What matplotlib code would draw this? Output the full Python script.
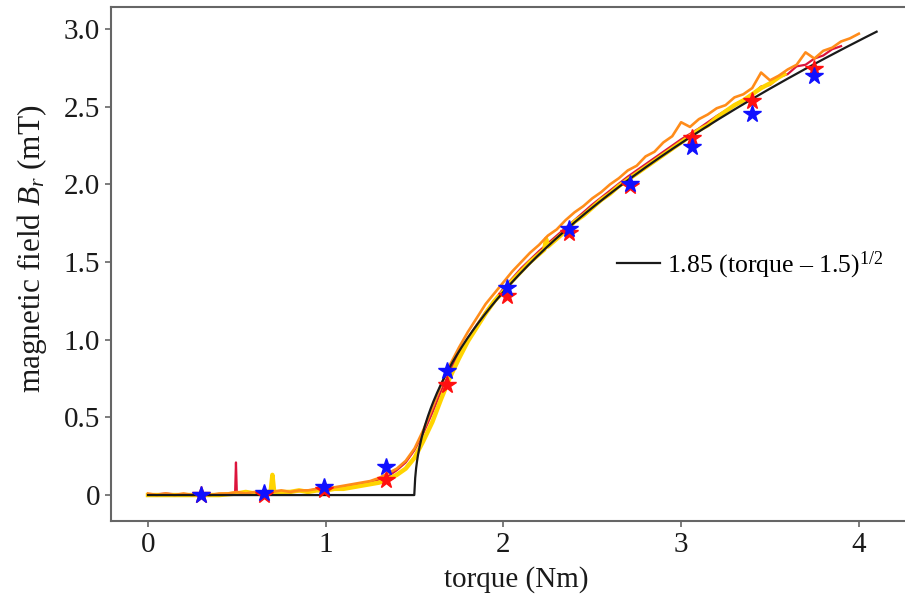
import matplotlib
matplotlib.use("Agg")
import matplotlib.pyplot as plt
import numpy as np

plt.rcParams['font.family'] = ['Liberation Serif', 'DejaVu Serif']
plt.rcParams['mathtext.fontset'] = 'custom'
plt.rcParams['mathtext.rm'] = 'Liberation Serif'
plt.rcParams['mathtext.it'] = 'Liberation Serif:italic'

# ---------------- data ----------------
# fit model parameters (from legend): 1.85 (torque - 1.5)^(1/2)
fit_coef = 1.85
fit_thresh = 1.5
fit_tmin, fit_tmax = 0.0, 4.1

# orange trace
orange_x = [0.00, 0.05, 0.10, 0.15, 0.20, 0.25, 0.30, 0.35, 0.40, 0.45,
            0.50, 0.55, 0.60, 0.65, 0.70, 0.75, 0.80, 0.85, 0.90, 0.95,
            1.00, 1.05, 1.10, 1.15, 1.20, 1.25, 1.30, 1.35, 1.40, 1.45,
            1.50, 1.55, 1.60, 1.65, 1.70, 1.75, 1.80, 1.85, 1.90, 1.95,
            2.00, 2.05, 2.10, 2.15, 2.20, 2.25, 2.30, 2.35, 2.40, 2.45,
            2.50, 2.55, 2.60, 2.65, 2.70, 2.75, 2.80, 2.85, 2.90, 2.95,
            3.00, 3.05, 3.10, 3.15, 3.20, 3.25, 3.30, 3.35, 3.40, 3.45,
            3.50, 3.55, 3.60, 3.65, 3.70, 3.75, 3.80, 3.85, 3.90, 3.95, 4.00]
orange_y = [0.01, 0.00, 0.01, 0.00, 0.01, 0.00, 0.01, 0.00, 0.01, 0.01,
            0.02, 0.01, 0.02, 0.02, 0.02, 0.03, 0.02, 0.03, 0.03, 0.04,
            0.04, 0.05, 0.06, 0.07, 0.08, 0.09, 0.11, 0.14, 0.17, 0.22,
            0.30, 0.42, 0.56, 0.71, 0.84, 0.95, 1.05, 1.14, 1.23, 1.30,
            1.37, 1.44, 1.50, 1.56, 1.61, 1.67, 1.71, 1.77, 1.82, 1.86,
            1.91, 1.95, 2.00, 2.04, 2.09, 2.12, 2.18, 2.21, 2.27, 2.31,
            2.40, 2.37, 2.42, 2.45, 2.49, 2.51, 2.56, 2.58, 2.62, 2.72,
            2.67, 2.70, 2.74, 2.77, 2.85, 2.81, 2.86, 2.88, 2.92, 2.94, 2.97]

# yellow trace
yellow_x = [0.00, 0.10, 0.20, 0.30, 0.40, 0.50, 0.55, 0.60, 0.65, 0.69,
            0.70, 0.71, 0.75, 0.80, 0.85, 0.90, 0.95, 1.00, 1.05, 1.10,
            1.15, 1.20, 1.25, 1.30, 1.35, 1.40, 1.45, 1.50, 1.55, 1.60,
            1.65, 1.70, 1.75, 1.80, 1.85, 1.90, 1.95, 2.00, 2.05, 2.10,
            2.15, 2.20, 2.23, 2.24, 2.25, 2.30, 2.35, 2.40, 2.45, 2.50,
            2.55, 2.60, 2.65, 2.70, 2.75, 2.80, 2.85, 2.90, 2.95, 3.00,
            3.05, 3.10, 3.15, 3.20, 3.25, 3.30, 3.35, 3.40, 3.45, 3.50,
            3.55, 3.58]
yellow_y = [0.00, 0.00, 0.00, 0.00, 0.00, 0.01, 0.02, 0.01, 0.02, 0.02,
            0.13, 0.02, 0.02, 0.02, 0.03, 0.02, 0.03, 0.03, 0.04, 0.04,
            0.05, 0.06, 0.07, 0.08, 0.10, 0.13, 0.17, 0.24, 0.35, 0.47,
            0.62, 0.76, 0.88, 0.99, 1.08, 1.17, 1.25, 1.31, 1.38, 1.44,
            1.50, 1.55, 1.58, 1.65, 1.60, 1.65, 1.70, 1.76, 1.80, 1.85,
            1.90, 1.94, 1.99, 2.03, 2.07, 2.11, 2.15, 2.19, 2.23, 2.27,
            2.31, 2.35, 2.38, 2.43, 2.47, 2.51, 2.54, 2.58, 2.62, 2.65,
            2.69, 2.71]

# crimson trace
crimson_x = [0.00, 0.10, 0.20, 0.30, 0.40, 0.49, 0.495, 0.50, 0.60, 0.70,
             0.80, 0.90, 1.00, 1.10, 1.20, 1.30, 1.35, 1.40, 1.45, 1.50,
             1.55, 1.60, 1.65, 1.70, 1.75, 1.80, 1.90, 2.00, 2.10, 2.20,
             2.30, 2.40, 2.50, 2.60, 2.70, 2.80, 2.90, 3.00, 3.10, 3.20,
             3.30, 3.40, 3.45, 3.50, 3.55, 3.60, 3.65, 3.70, 3.75, 3.80,
             3.85, 3.90]
crimson_y = [0.00, 0.01, 0.00, 0.01, 0.00, 0.01, 0.21, 0.01, 0.01, 0.02,
             0.02, 0.03, 0.04, 0.05, 0.07, 0.10, 0.12, 0.16, 0.21, 0.29,
             0.40, 0.53, 0.67, 0.80, 0.91, 1.01, 1.18, 1.33, 1.46, 1.57,
             1.67, 1.77, 1.87, 1.96, 2.05, 2.13, 2.21, 2.29, 2.36, 2.44,
             2.51, 2.58, 2.63, 2.64, 2.69, 2.71, 2.76, 2.77, 2.81, 2.83,
             2.87, 2.89]

# star markers
star_x = [0.30, 0.65, 0.99, 1.34, 1.68, 2.02, 2.37, 2.71, 3.06, 3.40, 3.75]
red_star_y = [0.00, 0.00, 0.03, 0.10, 0.71, 1.28, 1.69, 1.99, 2.30, 2.54, 2.74]
blue_star_y = [0.00, 0.01, 0.05, 0.18, 0.80, 1.33, 1.71, 2.00, 2.24, 2.45, 2.70]

x_ticks = [0, 1, 2, 3, 4]
x_tick_labels = ['0', '1', '2', '3', '4']
y_ticks = [0, 0.5, 1.0, 1.5, 2.0, 2.5, 3.0]
y_tick_labels = ['0', '0.5', '1.0', '1.5', '2.0', '2.5', '3.0']

# ---------------- figure ----------------
fig = plt.figure(figsize=(9.05, 6.03), dpi=100)
ax = fig.add_axes([0.1227, 0.136, 0.895, 0.8524])

ax.plot(crimson_x, crimson_y, color='#dc143c', lw=1.6, zorder=2)
ax.plot(yellow_x, yellow_y, color='#ffd400', lw=3.2, zorder=3)
ax.plot(orange_x, orange_y, color='#ff8c1a', lw=1.9, zorder=4)

fit_t = np.linspace(fit_tmin, fit_tmax, 800)
fit_b = fit_coef * np.sqrt(np.clip(fit_t - fit_thresh, 0, None))
ax.plot(fit_t, fit_b, color='#1a1a1a', lw=1.6, zorder=5,
        label=r'1.85 (torque – 1.5)$^{1/2}$')

ax.plot(star_x, red_star_y, ls='none', marker='*', ms=13, color='#ff1010',
        mec='#ff1010', zorder=6)
ax.plot(star_x, blue_star_y, ls='none', marker='*', ms=13, color='#1010ff',
        mec='#1010ff', zorder=7)

ax.set_xlim(-0.208, 4.35)
ax.set_ylim(-0.167, 3.142)
ax.set_xticks(x_ticks)
ax.set_xticklabels(x_tick_labels)
ax.set_yticks(y_ticks)
ax.set_yticklabels(y_tick_labels)

for s in ['left', 'top', 'bottom']:
    ax.spines[s].set_color('#666666')
    ax.spines[s].set_linewidth(1.5)
ax.spines['right'].set_visible(False)
ax.tick_params(direction='out', length=4, width=1.2, color='#666666',
               labelsize=21, labelcolor='#1a1a1a', pad=4)

ax.set_xlabel('torque (Nm)', fontsize=21, color='#1a1a1a', labelpad=6)
ax.set_ylabel(r'magnetic field $B_r$ (mT)', fontsize=22.5, color='#1a1a1a')
ax.yaxis.set_label_coords(-0.077, 0.53)

ax.legend(loc='center left', bbox_to_anchor=(0.625, 0.498), frameon=False,
          fontsize=18.5, handlelength=1.67, handletextpad=0.27,
          borderaxespad=0, borderpad=0)

fig.savefig('out.png', dpi=100)
